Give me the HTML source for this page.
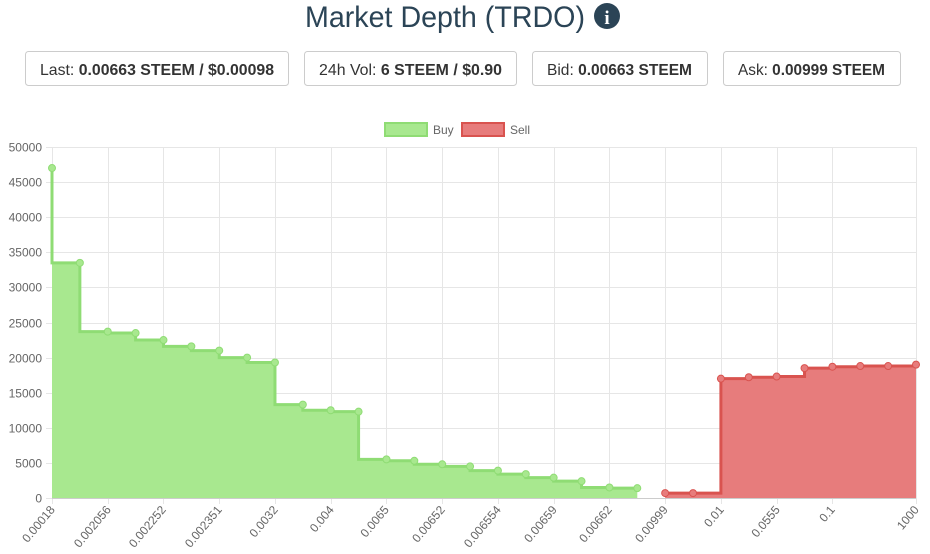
<!DOCTYPE html>
<html><head><meta charset="utf-8"><style>
html,body{margin:0;padding:0;background:#fff;width:930px;height:554px;overflow:hidden}
svg{display:block}
</style></head><body>
<svg id="s" width="930" height="554" xmlns="http://www.w3.org/2000/svg" font-family="'Liberation Sans Narrow','Liberation Sans',sans-serif">
<text x="305" y="27" font-size="30" fill="#2b4456" textLength="280" lengthAdjust="spacingAndGlyphs">Market Depth (TRDO)</text>
<circle cx="607" cy="16" r="13" fill="#2b4456"/>
<text x="607" y="24" font-size="19" font-weight="bold" fill="#fff" text-anchor="middle" font-family="'Liberation Serif',serif">i</text>
<g fill="#fff" stroke="#ccc" stroke-width="1">
<rect x="25.5" y="51.5" width="263" height="34" rx="3"/>
<rect x="304.5" y="51.5" width="212" height="34" rx="3"/>
<rect x="532.5" y="51.5" width="175" height="34" rx="3"/>
<rect x="723.5" y="51.5" width="177" height="34" rx="3"/>
</g>
<g font-size="16" fill="#333">
<text x="40" y="75" textLength="234" lengthAdjust="spacingAndGlyphs">Last: <tspan font-weight="bold">0.00663 STEEM / $0.00098</tspan></text>
<text x="319" y="75" textLength="183" lengthAdjust="spacingAndGlyphs">24h Vol: <tspan font-weight="bold">6 STEEM / $0.90</tspan></text>
<text x="547" y="75" textLength="145" lengthAdjust="spacingAndGlyphs">Bid: <tspan font-weight="bold">0.00663 STEEM</tspan></text>
<text x="738" y="75" textLength="147" lengthAdjust="spacingAndGlyphs">Ask: <tspan font-weight="bold">0.00999 STEEM</tspan></text>
</g>
<rect x="385" y="123" width="42" height="13" fill="#a8e88f" stroke="#8fdc74" stroke-width="2"/>
<text x="433" y="134" font-size="12" fill="#666">Buy</text>
<rect x="462" y="123" width="42" height="13" fill="#e77c7c" stroke="#d9534f" stroke-width="2"/>
<text x="510" y="134" font-size="12" fill="#666">Sell</text>
<g id="grid" stroke="#e6e6e6" stroke-width="1"></g>
<g id="ylab" font-size="12" fill="#666" text-anchor="end"></g>
<g id="series"></g>
<g id="xlab" font-size="12" fill="#666" text-anchor="end"></g>
</svg>
<script>
var NS="http://www.w3.org/2000/svg";
function el(t,a,p,txt){var e=document.createElementNS(NS,t);for(var k in a)e.setAttribute(k,a[k]);if(txt!=null)e.textContent=txt;document.getElementById(p).appendChild(e);return e;}
var x0=52,x1=916,yT=147,yB=498,n=32,dx=(x1-x0)/31;
function X(i){return x0+i*dx}
function Y(v){return yB-(v/50000)*(yB-yT)}
for(var v=0;v<=50000;v+=5000){var y=Math.round(Y(v))+0.5;el('line',{x1:x0-6,x2:x1,y1:y,y2:y},'grid');el('text',{x:42,y:y+4},'ylab',String(v));}
var labs=["0.00018","0.002056","0.002252","0.002351","0.0032","0.004","0.0065","0.00652","0.006554","0.00659","0.00662","0.00999","0.01","0.0555","0.1"];
for(var i=0;i<15;i++){var x=Math.round(X(i*2))+0.5;el('line',{x1:x,x2:x,y1:yT,y2:yB+6},'grid');var t=el('text',{x:x+3,y:yB+12,transform:'rotate(-50 '+(x+3)+' '+(yB+12)+')'},'xlab',labs[i]);}
var x=X(31)+0.5;el('line',{x1:x,x2:x,y1:yT,y2:yB+6},'grid');el('text',{x:x+3,y:yB+12,transform:'rotate(-50 '+(x+3)+' '+(yB+12)+')'},'xlab','1000');
el('line',{x1:x0,x2:x1,y1:yB+0.5,y2:yB+0.5,stroke:'#ccc'},'grid');
var g=[47000,33500,23700,23500,22500,21600,21000,20000,19300,13300,12500,12300,5500,5300,4800,4500,3900,3400,2900,2400,1500,1400];
var r=[700,700,17000,17200,17300,18500,18700,18800,18800,19000];
// green: stepped before
var d="M"+X(0)+","+Y(g[0]);
for(var i=1;i<g.length;i++){d+=" L"+X(i-1)+","+Y(g[i])+" L"+X(i)+","+Y(g[i]);}
el('path',{d:d+" L"+X(g.length-1)+","+yB+" L"+X(0)+","+yB+"Z",fill:'#a8e88f',stroke:'none'},'series');
el('path',{d:d,fill:'none',stroke:'#8fdc74','stroke-width':3},'series');
for(var i=0;i<g.length;i++)el('circle',{cx:X(i),cy:Y(g[i]),r:3.5,fill:'#a8e88f',stroke:'#8fdc74','stroke-width':1},'series');
// red: stepped after
var o=22;var d2="M"+X(o)+","+Y(r[0]);
for(var i=1;i<r.length;i++){d2+=" L"+X(o+i)+","+Y(r[i-1])+" L"+X(o+i)+","+Y(r[i]);}
el('path',{d:d2+" L"+X(o+r.length-1)+","+yB+" L"+X(o)+","+yB+"Z",fill:'#e77c7c',stroke:'none'},'series');
el('path',{d:d2,fill:'none',stroke:'#d9534f','stroke-width':3},'series');
for(var i=0;i<r.length;i++)el('circle',{cx:X(o+i),cy:Y(r[i]),r:3.5,fill:'#e77c7c',stroke:'#d9534f','stroke-width':1},'series');
</script>
</body></html>
